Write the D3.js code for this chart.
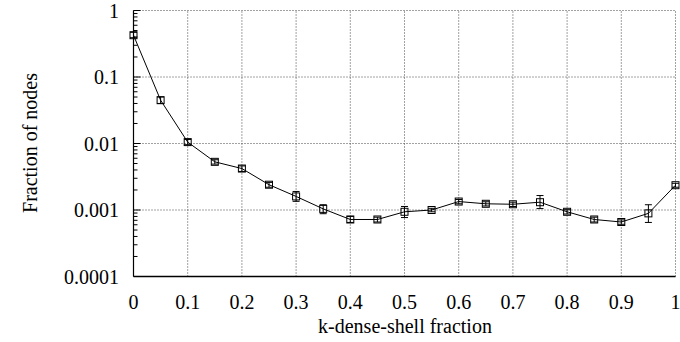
<!DOCTYPE html>
<html><head><meta charset="utf-8">
<script src="https://cdn.jsdelivr.net/npm/d3@7"></script>
<style>body{margin:0;background:#fff}</style>
</head><body>
<svg id="c" width="680" height="342"></svg>
<script>
const xs = [0,0.05,0.1,0.15,0.2,0.25,0.3,0.35,0.4,0.45,0.5,0.55,0.6,0.65,0.7,0.75,0.8,0.85,0.9,0.95,1.0];
const vals = [0.425,0.0448,0.0105,0.0053,0.0042,0.0024,0.0016,0.00104,0.00072,0.00072,0.00094,0.00100,0.00134,0.00124,0.00122,0.00131,0.00094,0.00072,0.00066,0.00089,0.00236];
const lo = [0.39,0.040,0.0096,0.0049,0.0038,0.0022,0.00135,0.00088,0.00065,0.00066,0.00077,0.00094,0.00124,0.00115,0.00113,0.00105,0.00087,0.00066,0.00061,0.00065,0.00220];
const hi = [0.47,0.050,0.0115,0.0057,0.0046,0.0026,0.00190,0.00120,0.00080,0.00078,0.00113,0.00106,0.00144,0.00133,0.00131,0.00165,0.00101,0.00078,0.00071,0.00120,0.00252];
const xTicks = [0,0.1,0.2,0.3,0.4,0.5,0.6,0.7,0.8,0.9,1];
const yTicks = [0.0001,0.001,0.01,0.1,1];
const yLabels = ["0.0001","0.001","0.01","0.1","1"];

const svg = d3.select("#c");
const x = d3.scaleLinear().domain([0,1]).range([133.5,675.5]);
const y = d3.scaleLog().domain([1e-4,1]).range([276.5,10.5]);
const font = "'Liberation Serif', 'Times New Roman', serif";
const fs = 20;

// grid
const g = svg.append("g");
xTicks.slice(1).forEach(t => g.append("line").attr("x1",x(t)).attr("x2",x(t)).attr("y1",y(1e-4)).attr("y2",y(1))
  .attr("stroke","#444").attr("stroke-width",1).attr("stroke-dasharray","1,2"));
yTicks.slice(1).forEach(t => g.append("line").attr("x1",x(0)).attr("x2",x(1)).attr("y1",y(t)).attr("y2",y(t))
  .attr("stroke","#444").attr("stroke-width",1).attr("stroke-dasharray","1,2"));

// minor ticks
const minors = [];
for (let e=-4;e<0;e++) for (let m=2;m<10;m++) minors.push(m*Math.pow(10,e));
minors.forEach(v => svg.append("line").attr("x1",x(0)).attr("x2",x(0)+4).attr("y1",y(v)).attr("y2",y(v)).attr("stroke","#000"));
yTicks.forEach(v => svg.append("line").attr("x1",x(0)).attr("x2",x(0)+7).attr("y1",y(v)).attr("y2",y(v)).attr("stroke","#000"));

// axes lines
svg.append("line").attr("x1",x(0)).attr("x2",x(0)).attr("y1",y(1e-4)).attr("y2",y(1)).attr("stroke","#000").attr("stroke-width",1.2);
svg.append("line").attr("x1",x(0)).attr("x2",x(1)).attr("y1",y(1e-4)).attr("y2",y(1e-4)).attr("stroke","#000").attr("stroke-width",1.5);

// tick labels
yTicks.forEach((v,i) => svg.append("text").attr("x",119).attr("y",y(v)).attr("dy","0.35em")
  .attr("text-anchor","end").attr("font-family",font).attr("font-size",fs).text(yLabels[i]));
xTicks.forEach(v => svg.append("text").attr("x",x(v)).attr("y",302).attr("dy","0.35em")
  .attr("text-anchor","middle").attr("font-family",font).attr("font-size",fs).text(d3.format("~g")(v)));

// axis titles
svg.append("text").attr("transform","translate(30,143) rotate(-90)").attr("text-anchor","middle")
  .attr("dy","0.35em").attr("font-family",font).attr("font-size",fs).text("Fraction of nodes");
svg.append("text").attr("x",405).attr("y",326).attr("text-anchor","middle").attr("dy","0.35em")
  .attr("font-family",font).attr("font-size",fs).text("k-dense-shell fraction");

// line
const data = xs.map((d,i)=>({x:d,v:vals[i],lo:lo[i],hi:hi[i]}));
svg.append("path").datum(data).attr("fill","none").attr("stroke","#000").attr("stroke-width",1)
  .attr("d", d3.line().x(d=>x(d.x)).y(d=>y(d.v)));

// error bars
const eb = svg.append("g").attr("stroke","#000").attr("stroke-width",1);
data.forEach(d => {
  eb.append("line").attr("x1",x(d.x)).attr("x2",x(d.x)).attr("y1",y(d.lo)).attr("y2",y(d.hi));
  eb.append("line").attr("x1",x(d.x)-3.5).attr("x2",x(d.x)+3.5).attr("y1",y(d.lo)).attr("y2",y(d.lo));
  eb.append("line").attr("x1",x(d.x)-3.5).attr("x2",x(d.x)+3.5).attr("y1",y(d.hi)).attr("y2",y(d.hi));
});
// markers
svg.append("g").selectAll("rect").data(data).join("rect")
  .attr("x",d=>x(d.x)-3.5).attr("y",d=>y(d.v)-3.5).attr("width",7).attr("height",7)
  .attr("fill","none").attr("stroke","#000").attr("stroke-width",1);
</script>
</body></html>
